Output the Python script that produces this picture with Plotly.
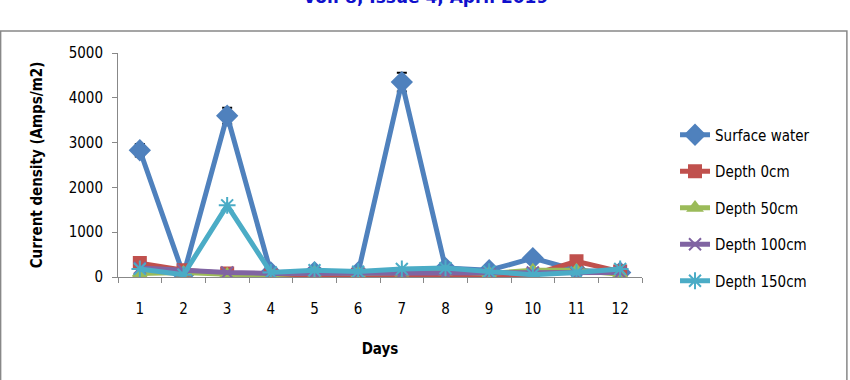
import plotly.graph_objects as go

days = [str(d) for d in range(1, 13)]
surface = [2830, 50, 3600, 100, 110, 100, 4350, 200, 150, 420, 150, 100]
surface_err = [140, 0, 180, 0, 0, 0, 210, 0, 0, 0, 0, 0]
depth0 = [310, 150, 80, 30, 10, 50, 10, 50, 10, 50, 350, 120]
depth50 = [80, 100, 60, 50, 100, 80, 100, 120, 80, 150, 150, 60]
depth100 = [200, 150, 100, 80, 80, 80, 80, 80, 80, 100, 80, 100]
depth150 = [180, 50, 1600, 100, 150, 120, 180, 200, 120, 50, 100, 180]

FONT = "DejaVu Sans Condensed, DejaVu Sans"

series = [
    ("Surface water", surface, "#4F81BD", "diamond", 15, surface_err),
    ("Depth 0cm", depth0, "#C0504D", "square", 12, None),
    ("Depth 50cm", depth50, "#9BBB59", "triangle-up", 12, None),
    ("Depth 100cm", depth100, "#8064A2", "x-thin-open", 12, None),
    ("Depth 150cm", depth150, "#4BACC6", "asterisk-open", 14, None),
]

fig = go.Figure()
for i, (name, ys, col, sym, size, err) in enumerate(series):
    kw = {}
    if err is not None:
        kw["error_y"] = dict(type="data", array=err, visible=True,
                             color="black", thickness=2, width=5)
    fig.add_trace(go.Scatter(
        x=days, y=ys, name=name, mode="lines+markers",
        line=dict(color=col, width=5),
        marker=dict(symbol=sym, size=size, color=col,
                    line=dict(color=col, width=2)),
        legendgroup=f"g{i}",
        **kw,
    ))

fig.update_layout(
    width=850, height=380,
    margin=dict(l=118, r=208, t=53, b=103, autoexpand=False),
    paper_bgcolor="white", plot_bgcolor="white",
    font=dict(family=FONT, size=14, color="black"),
    showlegend=True,
    legend=dict(x=1.063, y=0.308, xanchor="left", yanchor="middle",
                tracegroupgap=14, font=dict(size=15, family=FONT),
                bgcolor="rgba(0,0,0,0)"),
    xaxis=dict(type="category", tickson="boundaries", ticks="outside",
               range=[-0.5, 11.5],
               ticklen=5, tickcolor="#888", showline=True, linecolor="#888",
               linewidth=1, showgrid=False, zeroline=False, automargin=False,
               ticklabelstandoff=18,
               tickfont=dict(size=15, family=FONT),
               title=dict(text="<b>Days</b>", standoff=26,
                          font=dict(size=15, family=FONT))),
    yaxis=dict(range=[0, 5000], dtick=1000, ticks="outside", ticklen=5,
               tickcolor="#888", showline=True, linecolor="#888",
               linewidth=1, showgrid=False, zeroline=False, automargin=False,
               ticklabelstandoff=6,
               tickfont=dict(size=15, family=FONT),
               title=dict(text="<b>Current density (Amps/m2)</b>", standoff=22,
                          font=dict(size=15, family=FONT))),
)

fig.add_shape(type="rect", xref="paper", yref="paper",
              x0=-0.224, x1=1.391, y0=-0.7, y1=1.098,
              line=dict(color="#888", width=1.5), layer="below")
fig.add_annotation(text="<b>Vol. 8, Issue 4, April 2019</b>",
                   xref="paper", yref="paper", x=0.586, y=1.195,
                   xanchor="center", yanchor="bottom", showarrow=False,
                   font=dict(size=17, color="#1010CC", family="DejaVu Sans"))

fig.write_html("out.html")
